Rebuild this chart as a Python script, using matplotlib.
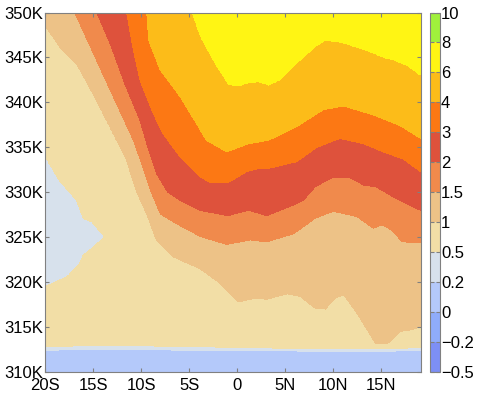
import numpy as np
import matplotlib.pyplot as plt
from matplotlib.colors import ListedColormap, BoundaryNorm

plt.rcParams['font.family'] = ['Liberation Sans', 'DejaVu Sans']

# contour levels and colours (colourbar is evenly spaced)
levels = [-0.5, -0.2, 0, 0.2, 0.5, 1, 1.5, 2, 3, 4, 6, 8, 10]
level_labels = ['\u22120.5', '\u22120.2', '0', '0.2', '0.5', '1', '1.5', '2', '3', '4', '6', '8', '10']
colors = ['#7d8ff5', '#8facfa', '#b4c9fa', '#d7e1ec', '#f2dea6', '#edc287',
          '#f08a4c', '#de523c', '#fc7814', '#fcbc19', '#fff514', '#a0f03c']

xticks = [-20, -15, -10, -5, 0, 5, 10, 15]
xticklabels = ['20S', '15S', '10S', '5S', '0', '5N', '10N', '15N']
yticks = [310, 315, 320, 325, 330, 335, 340, 345, 350]
yticklabels = ['310K', '315K', '320K', '325K', '330K', '335K', '340K', '345K', '350K']

# height (K) of each contour level, per latitude
b02_lat = [-20, -16, -10, 0, 10, 15, 19.1]
b02_th = [312.4, 312.6, 312.5, 312.4, 312.3, 312.3, 312.4]

b05_lat = [-20, -16, -10, 0, 10, 15, 19.1]
b05_th = [312.8, 312.9, 312.9, 312.7, 312.6, 312.6, 312.7]

b1_lat = [-20, -18.4, -16.7, -14.6, -11.5, -10.5, -9.4, -8.4, -6.6, -3.85, -1.8, 0.1, 1.9,
          3.1, 5.2, 6.6, 8.1, 9.2, 10.2, 11.1, 12.5, 14.4, 15.6, 17, 18.2, 19.1]
b1_th = [348.6, 346.1, 344.3, 340.2, 333.6, 330.2, 327.6, 324.7, 322.8, 321.5, 319.9, 317.8, 318.2,
         318.1, 318.7, 318.4, 317.1, 317.0, 318.2, 318.6, 316.5, 313.2, 313.1, 314.5, 314.7, 315.0]

b15_lat = [-20, -16.9, -14.3, -12.7, -10.8, -9.8, -9.0, -8.0, -6.3, -3.85, -1.1, 1.35, 3.1,
           5.9, 8.1, 10.0, 12.5, 14.2, 15.1, 16.1, 17.2, 19.1]
b15_th = [357, 350.0, 343.9, 340.2, 335.8, 332.8, 330.2, 327.6, 326.5, 325.1, 324.2, 324.7, 324.5,
          325.4, 327.1, 327.9, 327.3, 326.0, 326.4, 325.8, 324.5, 324.4]

b2_lat = [-20, -14.6, -13.2, -11.7, -10.1, -9.4, -8.4, -7.2, -5.9, -3.85, -1.0, 1.2, 3.1,
          5.9, 6.9, 8.1, 10.0, 11.8, 13.2, 14.5, 16.4, 19.1]
b2_th = [363, 350.0, 346.5, 342.1, 338.0, 335.4, 332.1, 330.0, 329.1, 328.0, 327.4, 328.0, 327.4,
         328.6, 329.1, 330.6, 331.7, 331.6, 330.8, 330.6, 329.4, 328.0]

b3_lat = [-20, -11.5, -10.8, -10.1, -8.7, -7.7, -5.9, -3.85, -2.8, -0.9, 1.0, 2.4, 3.4,
          6.2, 8.3, 10.7, 13.2, 15.2, 17.3, 19.1]
b3_th = [375, 350, 345.8, 342.4, 338.7, 336.5, 333.9, 331.7, 331.1, 331.1, 332.3, 332.7, 332.7,
         333.4, 335.0, 336.0, 335.4, 334.5, 333.7, 332.3]

b4_lat = [-20, -9.4, -9.2, -8.0, -5.9, -4.2, -3.2, -1.1, 1.2, 3.3, 6.2, 9.0, 11.1, 14.2, 17.0, 19.1]
b4_th = [390, 350, 346.9, 343.6, 340.6, 337.6, 335.8, 334.5, 335.4, 335.8, 337.3, 339.2, 339.6,
         338.6, 337.4, 336.0]

b6_lat = [-20, -4.7, -3.85, -2.5, -0.9, 0.1, 1.0, 2.2, 3.3, 4.3, 6.6, 8.3, 9.2, 11.1, 13.9,
          15.2, 16.3, 17.7, 19.1]
b6_th = [410, 350, 347.4, 344.7, 342.0, 341.8, 342.1, 342.3, 341.9, 342.4, 344.7, 346.3, 346.9,
         346.6, 345.6, 345.0, 344.7, 344.1, 343.0]

# pocket of 0.2-0.5 on the left: right edge (lat) against height
pocket_th = [319.5, 320.6, 322.1, 323.0, 325.0, 326.7, 327.1, 329.1, 331.3, 332.8, 334.0]
pocket_edge = [-20.0, -17.7, -16.4, -16.0, -13.75, -15.1, -16.0, -16.7, -18.5, -19.3, -20.0]
pocket_val = 0.35

lat = np.linspace(-20, 19.1, 600)
th = np.linspace(310, 350, 600)
Z = np.zeros((len(th), len(lat)))
bounds = [(b02_lat, b02_th, 0.2), (b05_lat, b05_th, 0.5), (b1_lat, b1_th, 1.0),
          (b15_lat, b15_th, 1.5), (b2_lat, b2_th, 2.0), (b3_lat, b3_th, 3.0),
          (b4_lat, b4_th, 4.0), (b6_lat, b6_th, 6.0)]
for j, la in enumerate(lat):
    hs = [310.0] + [np.interp(la, bl, bt) for bl, bt, v in bounds] + [500.0]
    vs = [0.1] + [v for bl, bt, v in bounds] + [7.0]
    Z[:, j] = np.interp(th, hs, vs)

LA, TH = np.meshgrid(lat, th)
edge = np.interp(TH, pocket_th, pocket_edge)
inside = (TH > pocket_th[0]) & (TH < pocket_th[-1]) & (LA < edge)
Z[inside] = pocket_val

cmap = ListedColormap(colors)
norm = BoundaryNorm(levels, cmap.N)

fig = plt.figure(figsize=(4.8, 3.96), dpi=100)
ax = fig.add_axes([0.09375, 0.0606, 0.7823, 0.9078])
cax = fig.add_axes([0.896, 0.0606, 0.0198, 0.9078])

cs = ax.contourf(lat, th, Z, levels=levels, cmap=cmap, norm=norm)
ax.set_xlim(-20, 19.1)
ax.set_ylim(310, 350)
ax.set_xticks(xticks)
ax.set_xticklabels(xticklabels)
ax.set_yticks(yticks)
ax.set_yticklabels(yticklabels)
ax.tick_params(direction='in', length=3, color='#808080', labelsize=12, pad=1,
               top=True, right=True)
ax.tick_params(axis='x', pad=4)
for s in ax.spines.values():
    s.set_color('#808080')
    s.set_linewidth(0.8)

cb = fig.colorbar(cs, cax=cax, spacing='uniform')
cb.set_ticks(levels)
cb.set_ticklabels(level_labels)
cb.ax.tick_params(direction='in', length=3, color='#808080', labelsize=12, pad=1,
                  left=True, right=True)
cb.outline.set_edgecolor('#808080')
cb.outline.set_linewidth(0.8)

fig.savefig('out.png', dpi=100)
